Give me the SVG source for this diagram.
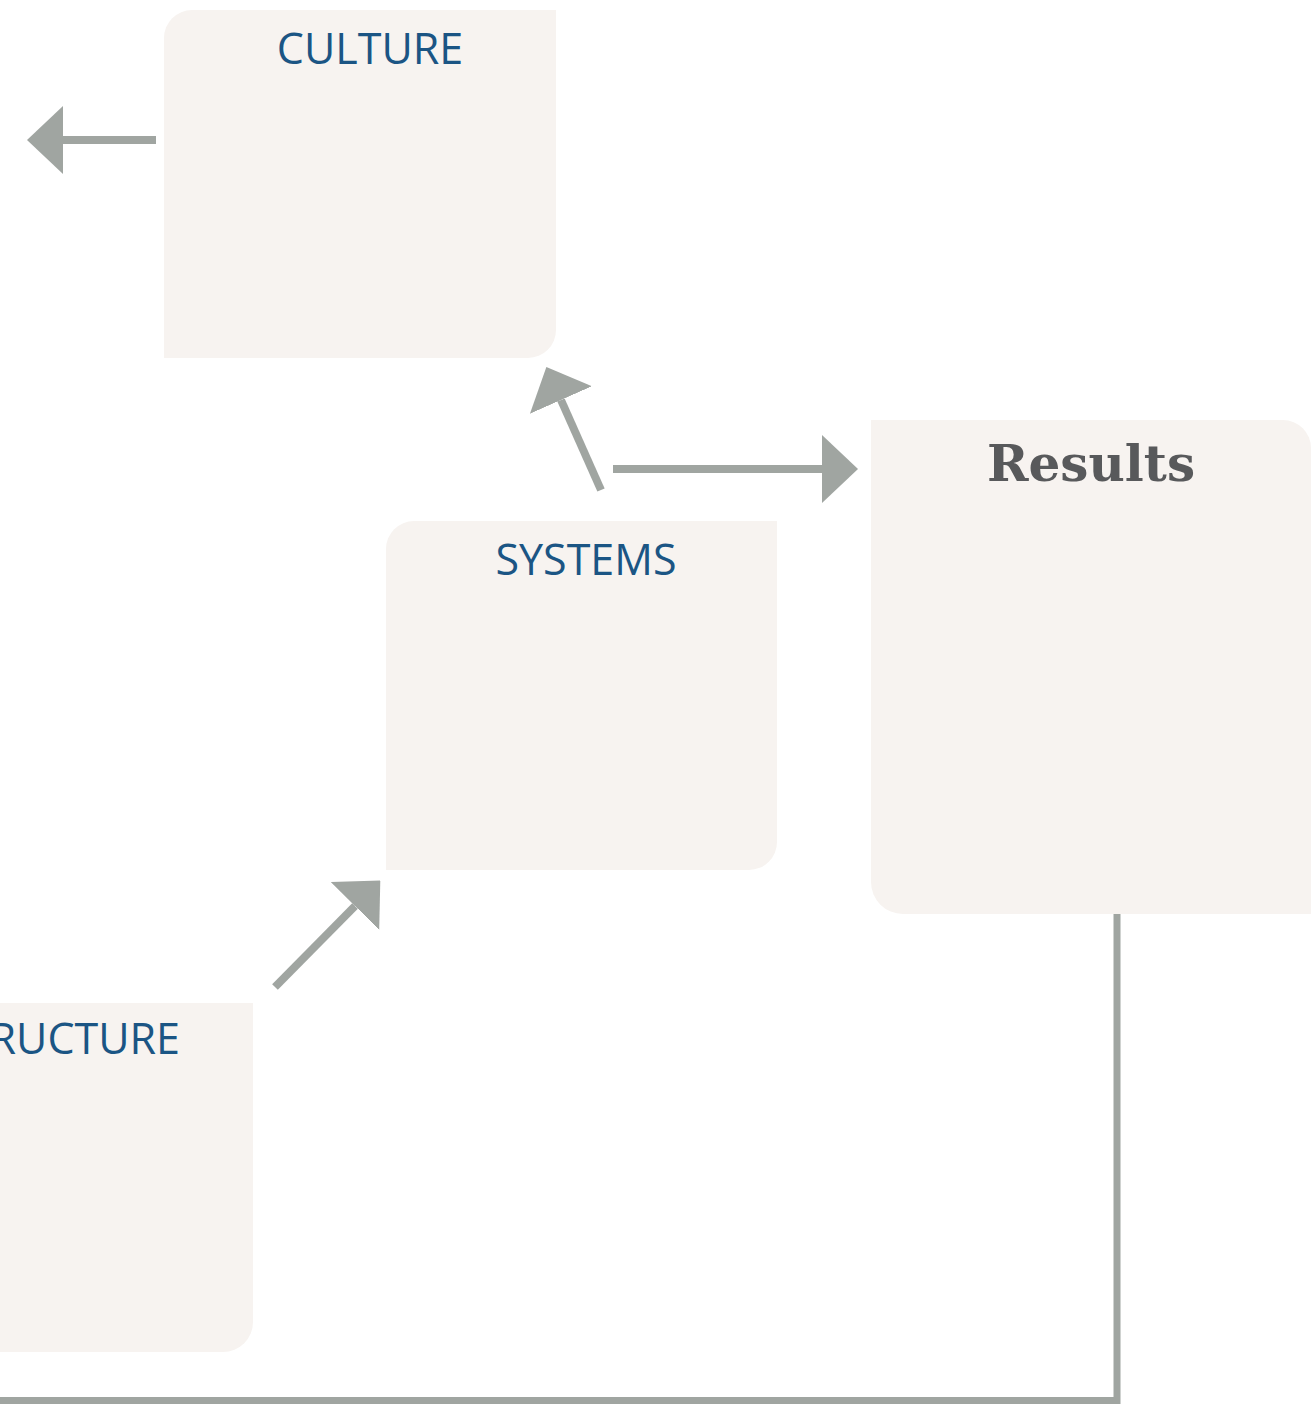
<svg xmlns="http://www.w3.org/2000/svg" width="1311" height="1404" viewBox="0 0 1311 1404">
<style>
.box{fill:#f7f3f0}
.lbl{font-family:"Open Sans","Noto Sans","Liberation Sans",sans-serif;font-size:43px;fill:#1b5584}
.res{font-family:"DejaVu Serif","Liberation Serif",serif;font-weight:bold;font-size:50px;fill:#58595b}
.con{stroke:#a0a5a1;stroke-width:8;fill:none}
</style>
<defs>
<marker id="ah" markerUnits="userSpaceOnUse" markerWidth="36" markerHeight="68" viewBox="0 0 36 68" refX="0" refY="34" orient="auto">
<path d="M0,0 L36,34 L0,68 Z" fill="#a0a5a1"/>
</marker>
</defs>
<rect width="1311" height="1404" fill="#ffffff"/>
<g id="culture">
<path class="box" d="M192,10 H556 V330 A28,28 0 0 1 528,358 H164 V38 A28,28 0 0 1 192,10 Z"/>
<text class="lbl" x="370" y="64" text-anchor="middle">CULTURE</text>
</g>
<g id="systems">
<path class="box" d="M414,521 H777 V842 A28,28 0 0 1 749,870 H386 V549 A28,28 0 0 1 414,521 Z"/>
<text class="lbl" x="586" y="575" text-anchor="middle">SYSTEMS</text>
</g>
<g id="structure">
<path class="box" d="M-110,1003 H253 V1322 A30,30 0 0 1 223,1352 H-138 V1031 A28,28 0 0 1 -110,1003 Z"/>
<text class="lbl" x="180" y="1054" text-anchor="end">STRUCTURE</text>
</g>
<g id="results">
<path class="box" d="M871,420 H1283 A28,28 0 0 1 1311,448 V914 H903 A32,32 0 0 1 871,882 Z"/>
<text class="res" x="1091" y="481" text-anchor="middle">Results</text>
</g>
<g id="connectors">
<line class="con" x1="156" y1="140" x2="63" y2="140" marker-end="url(#ah)"/>
<line class="con" x1="601" y1="490" x2="561" y2="400" marker-end="url(#ah)"/>
<line class="con" x1="613" y1="469" x2="822" y2="469" marker-end="url(#ah)"/>
<line class="con" x1="275" y1="987" x2="355" y2="906" marker-end="url(#ah)"/>
<polyline class="con" style="stroke-width:7" points="1117,914 1117,1400.5 -10,1400.5"/>
</g>
</svg>
